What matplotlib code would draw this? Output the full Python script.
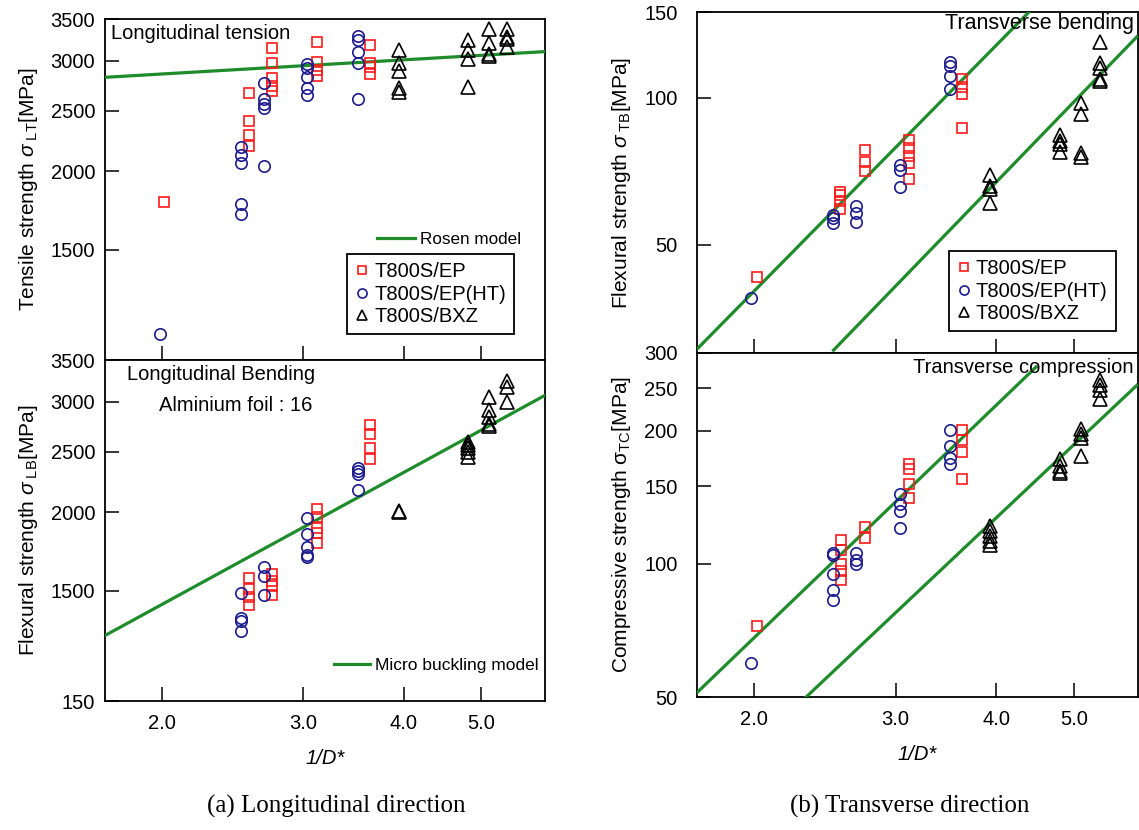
import matplotlib
matplotlib.use("Agg")
import matplotlib.pyplot as plt
from matplotlib.ticker import NullLocator, FixedLocator

plt.rcParams['font.family'] = ['Liberation Sans', 'DejaVu Sans']
plt.rcParams['mathtext.fontset'] = 'custom'
plt.rcParams['mathtext.rm'] = 'Liberation Sans'
plt.rcParams['mathtext.it'] = 'Liberation Sans:italic'
plt.rcParams['mathtext.bf'] = 'Liberation Sans:bold'

# ---------------- data ----------------
series_names = ["T800S/EP", "T800S/EP(HT)", "T800S/BXZ"]
x_ticks = [2.0, 3.0, 4.0, 5.0]
x_ticklabels = ["2.0", "3.0", "4.0", "5.0"]

# (a) Longitudinal tension
lt_ep_x = [2.016, 2.565, 2.565, 2.565, 2.565, 2.747, 2.747, 2.747, 2.747, 2.747,
           3.125, 3.125, 3.125, 3.125, 3.633, 3.633, 3.633, 3.633]
lt_ep_y = [1787, 2670, 2406, 2285, 2198, 3143, 2982, 2815, 2737, 2690,
           3221, 2993, 2902, 2839, 3178, 2982, 2938, 2857]
lt_ht_x = [1.988, 2.508, 2.508, 2.508, 2.508, 2.508, 2.683, 2.683, 2.683, 2.683, 2.683,
           3.036, 3.036, 3.036, 3.036, 3.036, 3.509, 3.509, 3.509, 3.509, 3.509]
lt_ht_y = [1101, 2184, 2123, 2064, 1773, 1709, 2770, 2606, 2558, 2521, 2039,
           2963, 2921, 2825, 2720, 2648, 3289, 3241, 3097, 2974, 2606]
lt_bxz_x = [3.943, 3.943, 3.943, 3.943, 3.943, 4.813, 4.813, 4.813, 4.813,
            5.107, 5.107, 5.107, 5.107, 5.376, 5.376, 5.376, 5.376]
lt_bxz_y = [3124, 2982, 2892, 2720, 2680, 3241, 3124, 3022, 2723,
            3371, 3209, 3078, 3055, 3371, 3281, 3249, 3155]
rosen_x = [1.70, 6.0]
rosen_y = [2825, 3105]

# (a) Longitudinal bending
lb_ep_x = [2.565, 2.565, 2.565, 2.565, 2.747, 2.747, 2.747, 2.747,
           3.125, 3.125, 3.125, 3.125, 3.125, 3.633, 3.633, 3.633, 3.633]
lb_ep_y = [1574, 1509, 1465, 1424, 1596, 1552, 1523, 1477,
           2022, 1969, 1886, 1852, 1785, 2754, 2665, 2535, 2437]
lb_ht_x = [2.508, 2.508, 2.508, 2.508, 2.680, 2.680, 2.680,
           3.036, 3.036, 3.036, 3.036, 3.036, 3.509, 3.509, 3.509, 3.509]
lb_ht_y = [1487, 1357, 1340, 1292, 1635, 1584, 1474,
           1961, 1845, 1759, 1710, 1697, 2356, 2331, 2301, 2171]
lb_bxz_x = [3.943, 3.943, 4.813, 4.813, 4.813, 4.813, 4.813,
            5.107, 5.107, 5.107, 5.107, 5.107, 5.376, 5.376, 5.376]
lb_bxz_y = [2000, 2010, 2591, 2560, 2530, 2499, 2455,
            3055, 2910, 2839, 2771, 2744, 3240, 3170, 3000]
buckling_x = [1.70, 6.0]
buckling_y = [1272, 3074]

# (b) Transverse bending
tb_ep_x = [2.017, 2.559, 2.559, 2.559, 2.559, 2.745, 2.745, 2.745,
           3.121, 3.121, 3.121, 3.121, 3.121, 3.627, 3.627, 3.627, 3.627]
tb_ep_y = [42.9, 64.1, 63.2, 61.4, 59.2, 78.2, 73.8, 70.7,
           82.1, 78.9, 76.1, 73.5, 68.3, 109.3, 105.3, 101.9, 86.9]
tb_ht_x = [1.986, 2.506, 2.506, 2.506, 2.681, 2.681, 2.681,
           3.035, 3.035, 3.035, 3.509, 3.509, 3.509, 3.509]
tb_ht_y = [38.9, 57.5, 56.6, 55.3, 60.1, 58.0, 55.8,
           73.0, 71.0, 65.7, 118.3, 116.0, 111.0, 104.3]
tb_bxz_x = [3.933, 3.933, 3.933, 3.933, 4.796, 4.796, 4.796, 4.796,
            5.093, 5.093, 5.093, 5.093, 5.387, 5.387, 5.387, 5.387, 5.387]
tb_bxz_y = [69.4, 65.9, 65.2, 61.0, 84.0, 81.7, 80.4, 77.3,
            97.7, 92.5, 77.1, 75.6, 130.3, 117.8, 115.0, 109.5, 108.1]
tb_line1_x = [1.695, 4.393]
tb_line1_y = [30.4, 150.0]
tb_line2_x = [2.512, 5.98]
tb_line2_y = [30.4, 133.4]

# (b) Transverse compression
tc_ep_x = [2.017, 2.564, 2.564, 2.564, 2.564, 2.564, 2.745, 2.745,
           3.121, 3.121, 3.121, 3.121, 3.627, 3.627, 3.627, 3.627]
tc_ep_y = [72.4, 113.2, 107.8, 99.7, 96.2, 92.1, 121.4, 114.6,
           168.2, 163.9, 151.5, 140.8, 201.0, 190.7, 178.8, 155.5]
tc_ht_x = [1.986, 2.506, 2.506, 2.506, 2.506, 2.506, 2.681, 2.681, 2.681,
           3.035, 3.035, 3.035, 3.035, 3.509, 3.509, 3.509, 3.509]
tc_ht_y = [59.6, 105.9, 104.5, 95.1, 87.1, 83.0, 105.6, 101.9, 100.2,
           143.8, 136.9, 131.7, 120.7, 201.4, 185.2, 173.3, 168.2]
tc_bxz_x = [3.933, 3.933, 3.933, 3.933, 3.933, 4.796, 4.796, 4.796, 4.796,
            5.093, 5.093, 5.093, 5.093, 5.387, 5.387, 5.387, 5.387]
tc_bxz_y = [121.8, 118.6, 115.6, 112.6, 110.6, 172.7, 166.7, 162.4, 160.8,
            202.1, 196.8, 192.4, 175.1, 260.2, 253.5, 246.9, 236.4]
tc_line1_x = [1.695, 4.483]
tc_line1_y = [50.9, 279.0]
tc_line2_x = [2.312, 5.98]
tc_line2_y = [49.6, 253.5]

# y tick values / labels (as printed in the figure)
lt_yticks = [1500, 2000, 2500, 3000, 3500]
lt_ylabels = ["1500", "2000", "2500", "3000", "3500"]
lb_yticks = [1000, 1500, 2000, 2500, 3000, 3500]
lb_ylabels = ["150", "1500", "2000", "2500", "3000", "3500"]
tb_yticks = [50, 100, 150]
tb_ylabels = ["50", "100", "150"]
tc_yticks = [50, 100, 150, 200, 250, 300]
tc_ylabels = ["50", "100", "150", "200", "250", "300"]

# ---------------- style ----------------
RED = '#ff1a1a'
BLUE = '#1c1c8e'
BLACK = '#000000'
GREEN = '#1f8c2c'
W, H = 1139, 830
fig = plt.figure(figsize=(W / 100, H / 100), dpi=100)


def ax_at(l, r, t, b):
    return fig.add_axes([l / W, 1 - b / H, (r - l) / W, (b - t) / H])


ax_lt = ax_at(105, 545, 19, 360)
ax_lb = ax_at(105, 545, 360, 701)
ax_tb = ax_at(697, 1138, 12, 353)
ax_tc = ax_at(697, 1138, 353, 697)

TICKFS = 14.5


def style(ax, ylim, yticks, ylabels, show_x, ypad):
    ax.set_xscale('log')
    ax.set_yscale('log')
    ax.set_xlim(1.70, 6.0)
    ax.set_ylim(*ylim)
    ax.xaxis.set_major_locator(FixedLocator(x_ticks))
    ax.xaxis.set_minor_locator(NullLocator())
    ax.yaxis.set_major_locator(FixedLocator(yticks))
    ax.yaxis.set_minor_locator(NullLocator())
    ax.set_yticklabels(ylabels)
    if show_x:
        ax.set_xticklabels(x_ticklabels)
    else:
        ax.set_xticklabels([])
    ax.tick_params(axis='both', which='major', direction='in', length=10,
                   width=1.1, labelsize=TICKFS, top=False, right=False)
    ax.tick_params(axis='y', pad=ypad)
    ax.tick_params(axis='x', pad=9)
    for s in ax.spines.values():
        s.set_linewidth(1.3)


def scatter3(ax, ex, ey, hx, hy, bx, by):
    h1, = ax.plot(ex, ey, 's', ms=7.5, mfc='none', mec=RED, mew=1.2, ls='none', zorder=4)
    h2, = ax.plot(hx, hy, 'o', ms=8.2, mfc='none', mec=BLUE, mew=1.2, ls='none', zorder=4)
    h3, = ax.plot(bx, by, '^', ms=9.5, mfc='none', mec=BLACK, mew=1.2, ls='none', zorder=4)
    return [h1, h2, h3]


def marker_legend(ax, handles, anchor):
    leg = ax.legend(handles, series_names, loc='upper left', bbox_to_anchor=anchor,
                    fontsize=14.5, frameon=True, fancybox=False, framealpha=1,
                    edgecolor='black', borderaxespad=0, borderpad=0.4,
                    handlelength=0.7, handletextpad=0.25, labelspacing=0.18,
                    markerscale=0.8)
    leg.get_frame().set_linewidth(1.3)
    return leg


# ----- Longitudinal tension -----
style(ax_lt, (1000, 3500), lt_yticks, lt_ylabels, False, 7)
hs = scatter3(ax_lt, lt_ep_x, lt_ep_y, lt_ht_x, lt_ht_y, lt_bxz_x, lt_bxz_y)
lr, = ax_lt.plot(rosen_x, rosen_y, color=GREEN, lw=2.3, zorder=3)
leg1 = marker_legend(ax_lt, hs, (0.55, 0.311))
ax_lt.add_artist(leg1)
ax_lt.legend([lr], ["Rosen model"], loc='center left', bbox_to_anchor=(0.618, 0.352),
             frameon=False, fontsize=12.3, borderaxespad=0, borderpad=0,
             handlelength=2.2, handletextpad=0.3)
ax_lt.text(0.014, 0.958, "Longitudinal tension", transform=ax_lt.transAxes,
           fontsize=14.5, ha='left', va='center')
ax_lt.set_ylabel(r"Tensile strength $\sigma_{\ \mathrm{LT}}$[MPa]", fontsize=15, labelpad=8)

# ----- Longitudinal bending -----
style(ax_lb, (1000, 3500), lb_yticks, lb_ylabels, True, 7)
scatter3(ax_lb, lb_ep_x, lb_ep_y, lb_ht_x, lb_ht_y, lb_bxz_x, lb_bxz_y)
lm, = ax_lb.plot(buckling_x, buckling_y, color=GREEN, lw=2.3, zorder=3)
ax_lb.legend([lm], ["Micro buckling model"], loc='center left', bbox_to_anchor=(0.52, 0.103),
             frameon=False, fontsize=12.5, borderaxespad=0, borderpad=0,
             handlelength=2.1, handletextpad=0.3)
ax_lb.text(0.05, 0.958, "Longitudinal Bending", transform=ax_lb.transAxes,
           fontsize=14.5, ha='left', va='center')
ax_lb.text(0.123, 0.868, "Alminium foil : 16", transform=ax_lb.transAxes,
           fontsize=14.5, ha='left', va='center')
ax_lb.set_ylabel(r"Flexural strength $\sigma_{\ \mathrm{LB}}$[MPa]", fontsize=15, labelpad=8)
ax_lb.set_xlabel("1/D*", fontsize=14.5, fontstyle='italic', labelpad=12)

# ----- Transverse bending -----
style(ax_tb, (30, 150), tb_yticks, tb_ylabels, False, 14)
hs2 = scatter3(ax_tb, tb_ep_x, tb_ep_y, tb_ht_x, tb_ht_y, tb_bxz_x, tb_bxz_y)
ax_tb.plot(tb_line1_x, tb_line1_y, color=GREEN, lw=2.3, zorder=3)
ax_tb.plot(tb_line2_x, tb_line2_y, color=GREEN, lw=2.3, zorder=3)
marker_legend(ax_tb, hs2, (0.571, 0.299))
ax_tb.text(0.991, 0.967, "Transverse bending", transform=ax_tb.transAxes,
           fontsize=15.5, ha='right', va='center')
ax_tb.set_ylabel(r"Flexural strength $\sigma_{\ \mathrm{TB}}$[MPa]", fontsize=15, labelpad=8)

# ----- Transverse compression -----
style(ax_tc, (50, 300), tc_yticks, tc_ylabels, True, 14)
scatter3(ax_tc, tc_ep_x, tc_ep_y, tc_ht_x, tc_ht_y, tc_bxz_x, tc_bxz_y)
ax_tc.plot(tc_line1_x, tc_line1_y, color=GREEN, lw=2.3, zorder=3)
ax_tc.plot(tc_line2_x, tc_line2_y, color=GREEN, lw=2.3, zorder=3)
ax_tc.text(0.989, 0.959, "Transverse compression", transform=ax_tc.transAxes,
           fontsize=14.5, ha='right', va='center')
ax_tc.set_ylabel(r"Compressive strength σ$_{\mathrm{TC}}$[MPa]", fontsize=15, labelpad=8)
ax_tc.set_xlabel("1/D*", fontsize=14.5, fontstyle='italic', labelpad=12)

# captions
fig.text(336 / W, 1 - 806 / H, "(a) Longitudinal direction", family='Liberation Serif',
         fontsize=18, ha='center', va='center')
fig.text(910 / W, 1 - 806 / H, "(b) Transverse direction", family='Liberation Serif',
         fontsize=18, ha='center', va='center')

fig.savefig("out.png", dpi=100)
